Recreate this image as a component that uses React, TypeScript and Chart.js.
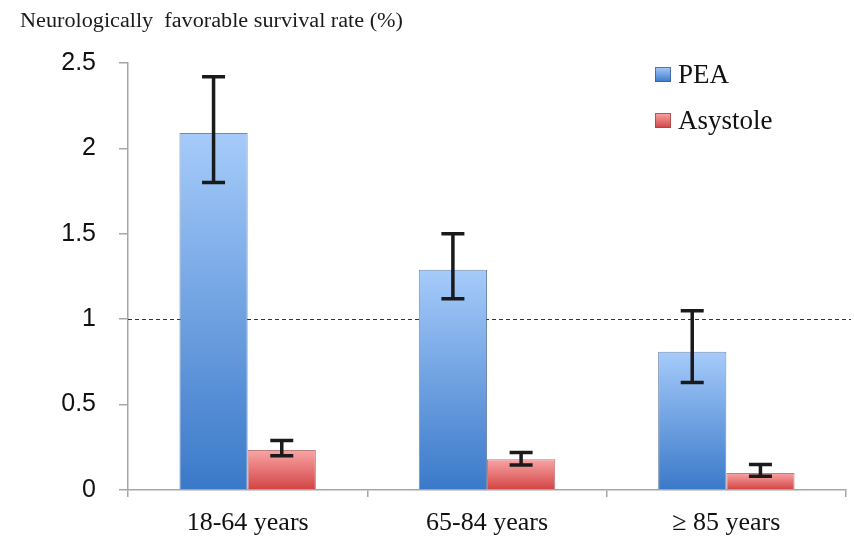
import React, { useEffect, useRef } from "react";
import { Chart, registerables } from "chart.js";

Chart.register(...registerables);

const categories = ["18-64 years", "65-84 years", "\u2265 85 years"];
const seriesNames = ["PEA", "Asystole"];
const peaValues = [2.09, 1.29, 0.81];
const peaLower = [1.8, 1.12, 0.63];
const peaUpper = [2.42, 1.5, 1.05];
const asysValues = [0.234, 0.18, 0.1];
const asysLower = [0.2, 0.146, 0.08];
const asysUpper = [0.29, 0.22, 0.15];
const yTickValues = [0, 0.5, 1, 1.5, 2, 2.5];
const referenceValue = 1;
const titleText = "Neurologically  favorable survival rate (%)";

const blueStops = ["#a6cbfa", "#3a79c9"];
const redStops = ["#f9a5a5", "#d24343"];
const serif = "'Liberation Serif', 'Times New Roman', serif";

function gradientFill(stops: string[], fallback: string) {
  return (c: any) => {
    const chart = c.chart;
    const ys = chart.scales && chart.scales.y;
    if (!ys || c.type !== "data" || typeof c.raw !== "number") return fallback;
    const top = ys.getPixelForValue(c.raw);
    const bottom = ys.getPixelForValue(0);
    if (!isFinite(top) || !isFinite(bottom) || top === bottom) return fallback;
    const g = chart.ctx.createLinearGradient(0, top, 0, bottom);
    g.addColorStop(0, stops[0]);
    g.addColorStop(1, stops[1]);
    return g;
  };
}

const refLinePlugin = {
  id: "refLine",
  beforeDatasetsDraw(chart: any) {
    const { ctx, chartArea, scales } = chart;
    const y = Math.round(scales.y.getPixelForValue(referenceValue)) + 0.5;
    ctx.save();
    ctx.strokeStyle = "#333";
    ctx.lineWidth = 1.2;
    ctx.setLineDash([4, 3]);
    ctx.beginPath();
    ctx.moveTo(chartArea.left, y);
    ctx.lineTo(chartArea.right + 5, y);
    ctx.stroke();
    ctx.restore();
  },
};

const errorBarPlugin = {
  id: "errorBars",
  afterDatasetsDraw(chart: any) {
    const { ctx, scales } = chart;
    const sets = [
      [peaLower, peaUpper],
      [asysLower, asysUpper],
    ];
    ctx.save();
    ctx.strokeStyle = "#1a1a1a";
    ctx.lineWidth = 3.5;
    sets.forEach(([lo, hi], di) => {
      const meta = chart.getDatasetMeta(di);
      meta.data.forEach((bar: any, i: number) => {
        const x = bar.x;
        const yl = scales.y.getPixelForValue(lo[i]);
        const yh = scales.y.getPixelForValue(hi[i]);
        ctx.beginPath();
        ctx.moveTo(x, yl);
        ctx.lineTo(x, yh);
        ctx.moveTo(x - 11.5, yl);
        ctx.lineTo(x + 11.5, yl);
        ctx.moveTo(x - 11.5, yh);
        ctx.lineTo(x + 11.5, yh);
        ctx.stroke();
      });
    });
    ctx.restore();
  },
};

const decorPlugin = {
  id: "decor",
  afterDraw(chart: any) {
    const { ctx } = chart;
    ctx.save();
    ctx.fillStyle = "#1a1a1a";
    ctx.font = "20px " + serif;
    ctx.textBaseline = "alphabetic";
    ctx.textAlign = "left";
    const w = ctx.measureText(titleText).width;
    ctx.save();
    ctx.translate(20, 27);
    ctx.scale(383 / w, 1);
    ctx.fillText(titleText, 0, 0);
    ctx.restore();
    const items = [
      { name: seriesNames[0], stops: blueStops, border: "rgba(60,95,150,0.8)", y: 67 },
      { name: seriesNames[1], stops: redStops, border: "rgba(160,70,70,0.8)", y: 113 },
    ];
    items.forEach((it) => {
      const g = ctx.createLinearGradient(0, it.y, 0, it.y + 15);
      g.addColorStop(0, it.stops[0]);
      g.addColorStop(1, it.stops[1]);
      ctx.fillStyle = g;
      ctx.fillRect(655, it.y, 16, 15);
      ctx.strokeStyle = it.border;
      ctx.lineWidth = 1;
      ctx.strokeRect(655.5, it.y + 0.5, 15, 14);
      ctx.fillStyle = "#111";
      ctx.font = "27px " + serif;
      ctx.fillText(it.name, 678, it.y + 16);
    });
    ctx.restore();
  },
};

export default function App() {
  const canvasRef = useRef<HTMLCanvasElement | null>(null);

  useEffect(() => {
    if (!canvasRef.current) return;
    const chart = new Chart(canvasRef.current, {
      type: "bar",
      data: {
        labels: categories,
        datasets: [
          {
            label: seriesNames[0],
            data: peaValues,
            backgroundColor: gradientFill(blueStops, blueStops[1]),
            borderColor: "rgba(70,100,150,0.75)",
            borderWidth: 1,
            categoryPercentage: 0.57,
            barPercentage: 1,
          },
          {
            label: seriesNames[1],
            data: asysValues,
            backgroundColor: gradientFill(redStops, redStops[1]),
            borderColor: "rgba(170,80,80,0.75)",
            borderWidth: 1,
            categoryPercentage: 0.57,
            barPercentage: 1,
          },
        ],
      },
      options: {
        responsive: false,
        animation: false,
        layout: { padding: { left: 0, right: 8, top: 63, bottom: 0 } },
        plugins: {
          legend: { display: false },
          title: { display: false },
          tooltip: { enabled: false },
        },
        scales: {
          x: {
            grid: {
              display: true,
              drawOnChartArea: false,
              drawTicks: true,
              tickLength: 7,
              color: "#a6a6a6",
              lineWidth: 1.5,
            },
            border: { display: true, color: "#a6a6a6", width: 1.5 },
            ticks: {
              color: "#111",
              padding: 11,
              font: { family: serif, size: 26 },
            },
            afterFit: (s: any) => {
              s.height = 52;
            },
          },
          y: {
            min: 0,
            max: 2.5,
            afterBuildTicks: (s: any) => {
              s.ticks = yTickValues.map((v) => ({ value: v }));
            },
            grid: {
              drawOnChartArea: false,
              drawTicks: true,
              tickLength: 9,
              color: "#a6a6a6",
              lineWidth: 1.5,
            },
            border: { display: true, color: "#a6a6a6", width: 1.5 },
            ticks: {
              color: "#111",
              padding: 23,
              font: { family: "'Liberation Sans', sans-serif", size: 25 },
              callback: (v: any) => String(v),
            },
            afterFit: (s: any) => {
              s.width = 128;
            },
          },
        },
      },
      plugins: [refLinePlugin, errorBarPlugin, decorPlugin],
    });
    chart.update();
    return () => chart.destroy();
  }, []);

  return (
    <div style={{ position: "absolute", left: 0, top: 0, width: 854, height: 542, background: "#fff" }}>
      <canvas ref={canvasRef} width={854} height={542} style={{ display: "block" }} />
    </div>
  );
}
